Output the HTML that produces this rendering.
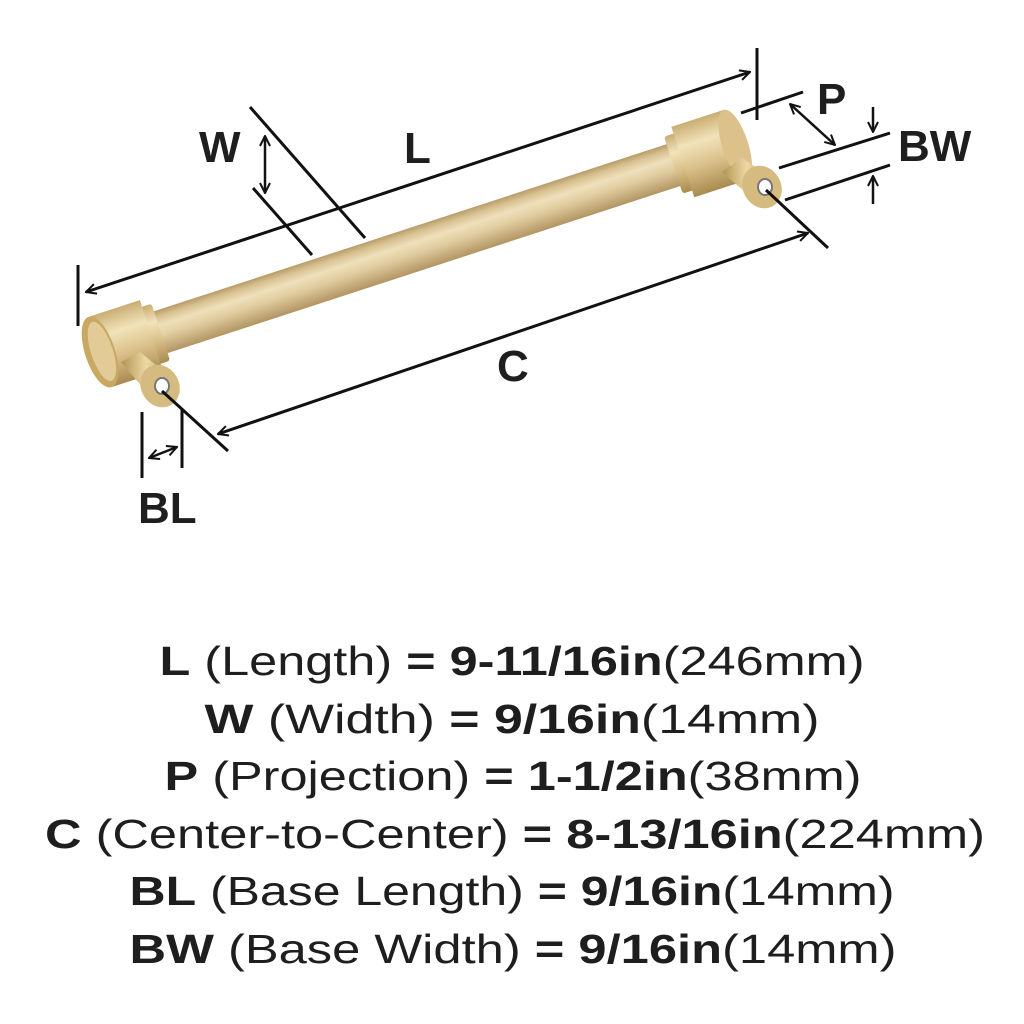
<!DOCTYPE html>
<html><head><meta charset="utf-8"><style>
html,body{margin:0;padding:0;background:#fff;}
svg{display:block;}
text{font-family:"Liberation Sans",sans-serif;fill:#1e1e1e;}
</style></head><body>
<svg width="1024" height="1024" viewBox="0 0 1024 1024" xmlns="http://www.w3.org/2000/svg">
<defs>
<linearGradient id="rod" x1="0" y1="0" x2="0" y2="1">
<stop offset="0" stop-color="#b79c68"/>
<stop offset="0.15" stop-color="#d9c292"/>
<stop offset="0.35" stop-color="#efe0bb"/>
<stop offset="0.6" stop-color="#e0cb9e"/>
<stop offset="1" stop-color="#b29563"/>
</linearGradient>
<linearGradient id="cap" x1="0" y1="0" x2="0" y2="1">
<stop offset="0" stop-color="#c9ad72"/>
<stop offset="0.3" stop-color="#f1e3ba"/>
<stop offset="0.6" stop-color="#dcc28c"/>
<stop offset="1" stop-color="#a98b50"/>
</linearGradient>
<linearGradient id="post" x1="0" y1="0" x2="1" y2="0">
<stop offset="0" stop-color="#b3944f"/>
<stop offset="0.5" stop-color="#ecd9a6"/>
<stop offset="1" stop-color="#b69852"/>
</linearGradient>
<marker id="ah" viewBox="0 0 12 12" refX="11" refY="6" markerWidth="12" markerHeight="12" markerUnits="userSpaceOnUse" orient="auto-start-reverse">
<path d="M1,1 L11,6 L1,11" fill="none" stroke="#111" stroke-width="2"/>
</marker>
</defs>

<!-- handle -->
<g transform="translate(100,352) rotate(-18.05)">
<rect x="55" y="-22" width="560" height="44" fill="url(#rod)"/>
<rect x="50" y="-30" width="14" height="60" rx="3" fill="url(#cap)"/>
<rect x="603" y="-30" width="14" height="60" rx="3" fill="url(#cap)"/>
<rect x="0" y="-37" width="54" height="74" fill="url(#cap)"/>
<rect x="613" y="-37" width="55" height="74" fill="url(#cap)"/>
<ellipse cx="668" cy="0" rx="13" ry="37" fill="#dcc28a"/>
<ellipse cx="0" cy="0" rx="15" ry="37" fill="#c9a862"/>
<ellipse cx="2" cy="0" rx="11" ry="31" fill="#e2cb96"/>
</g>
<!-- left post -->
<path d="M121,362 L140,352 L172,378 L150,396 Z" fill="url(#post)"/>
<ellipse cx="160" cy="386" rx="19" ry="22" transform="rotate(-30 160 386)" fill="#d6bb80"/>
<ellipse cx="162" cy="386" rx="7" ry="8" fill="#fff" stroke="#777" stroke-width="2"/>
<!-- right post -->
<path d="M722,172 L742,158 L772,178 L752,198 Z" fill="url(#post)"/>
<ellipse cx="762" cy="187" rx="19" ry="22" transform="rotate(-30 762 187)" fill="#d6bb80"/>
<ellipse cx="765" cy="187" rx="7" ry="8" fill="#fff" stroke="#777" stroke-width="2"/>

<g stroke="#111" stroke-width="3" fill="none">
<line x1="78" y1="265" x2="78" y2="326"/>
<line x1="757" y1="48" x2="757" y2="120"/>
<line x1="86" y1="292" x2="750" y2="72" marker-start="url(#ah)" marker-end="url(#ah)"/>
<line x1="250" y1="107" x2="365" y2="238"/>
<line x1="253" y1="188" x2="312" y2="255"/>
<line x1="265" y1="136" x2="265" y2="193" stroke-width="2.5" marker-start="url(#ah)" marker-end="url(#ah)"/>
<line x1="741" y1="113" x2="803" y2="92"/>
<line x1="790" y1="104" x2="835" y2="145" stroke-width="2.5" marker-start="url(#ah)" marker-end="url(#ah)"/>
<line x1="779" y1="168" x2="890" y2="133"/>
<line x1="785" y1="200" x2="890" y2="165"/>
<line x1="873" y1="107" x2="873" y2="132" stroke-width="2.5" marker-end="url(#ah)"/>
<line x1="873" y1="204" x2="873" y2="176" stroke-width="2.5" marker-end="url(#ah)"/>
<line x1="162" y1="391" x2="228" y2="451"/>
<line x1="766" y1="190" x2="828" y2="248"/>
<line x1="218" y1="434" x2="808" y2="233" marker-start="url(#ah)" marker-end="url(#ah)"/>
<line x1="142" y1="412" x2="142" y2="478"/>
<line x1="182" y1="410" x2="182" y2="468"/>
<line x1="149" y1="458" x2="177" y2="447" stroke-width="2.5" marker-start="url(#ah)" marker-end="url(#ah)"/>
</g>

<g font-weight="bold" font-size="44">
<text x="199" y="162">W</text>
<text x="404" y="163">L</text>
<text x="817" y="114">P</text>
<text x="898" y="161">BW</text>
<text x="497" y="381">C</text>
<text x="138" y="523">BL</text>
</g>

<g font-size="41" text-anchor="middle">
<text x="512" y="675" textLength="705" lengthAdjust="spacingAndGlyphs"><tspan font-weight="bold">L</tspan> (Length) <tspan font-weight="bold">= 9-11/16in</tspan>(246mm)</text>
<text x="512" y="733" textLength="615" lengthAdjust="spacingAndGlyphs"><tspan font-weight="bold">W</tspan> (Width) <tspan font-weight="bold">= 9/16in</tspan>(14mm)</text>
<text x="513" y="790" textLength="697" lengthAdjust="spacingAndGlyphs"><tspan font-weight="bold">P</tspan> (Projection) <tspan font-weight="bold">= 1-1/2in</tspan>(38mm)</text>
<text x="515" y="848" textLength="940" lengthAdjust="spacingAndGlyphs"><tspan font-weight="bold">C</tspan> (Center-to-Center) <tspan font-weight="bold">= 8-13/16in</tspan>(224mm)</text>
<text x="512" y="905" textLength="765" lengthAdjust="spacingAndGlyphs"><tspan font-weight="bold">BL</tspan> (Base Length) <tspan font-weight="bold">= 9/16in</tspan>(14mm)</text>
<text x="513" y="963" textLength="767" lengthAdjust="spacingAndGlyphs"><tspan font-weight="bold">BW</tspan> (Base Width) <tspan font-weight="bold">= 9/16in</tspan>(14mm)</text>
</g>
</svg>
</body></html>
